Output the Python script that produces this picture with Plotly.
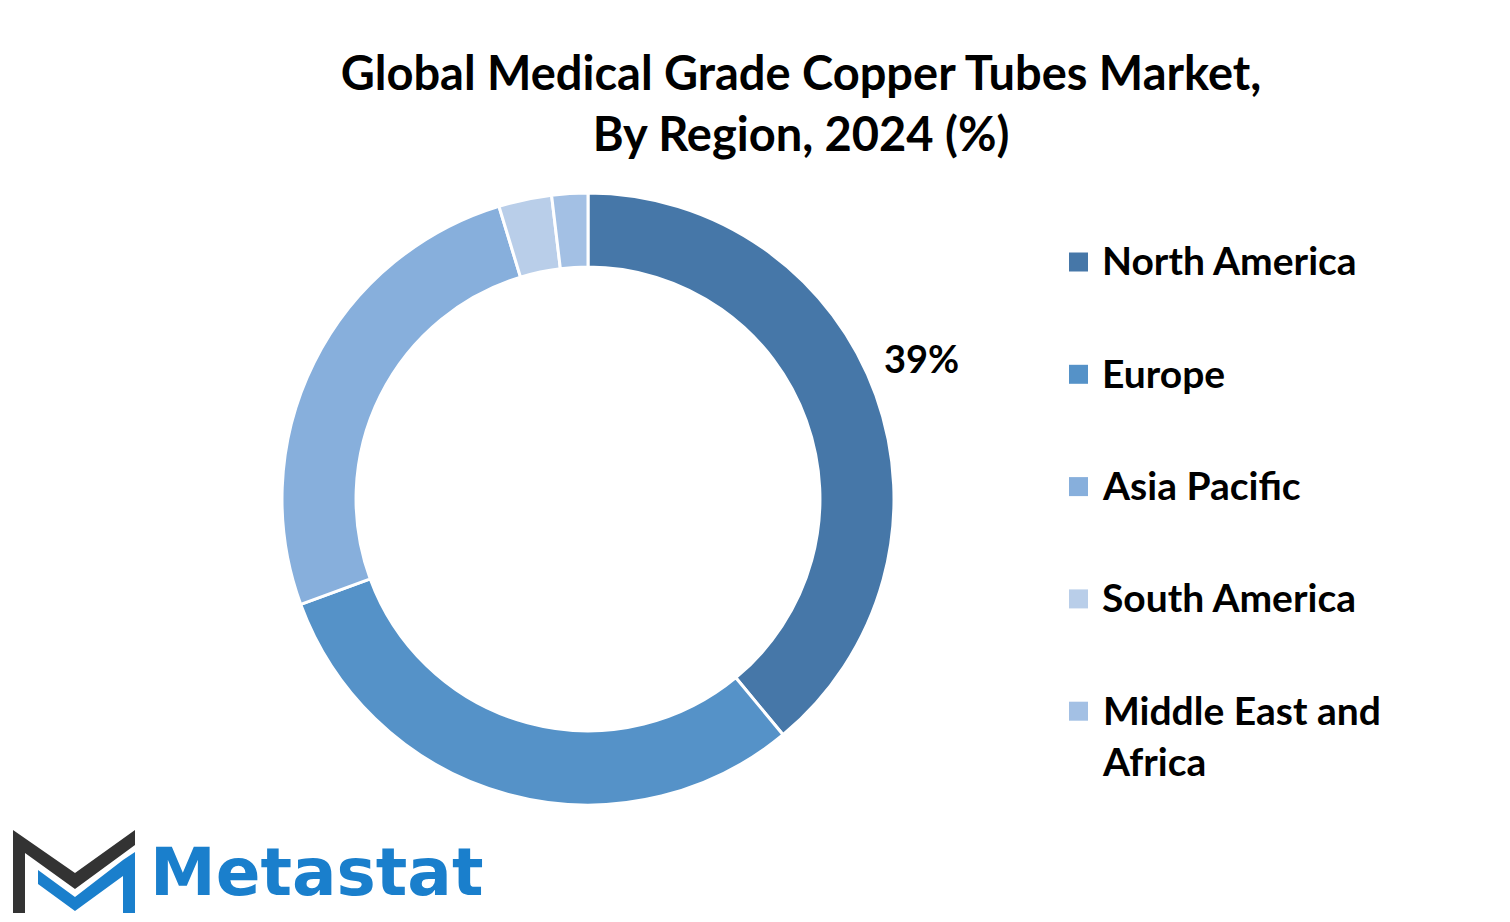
import plotly.graph_objects as go

# ---- data ----
regions = ["North America", "Europe", "Asia Pacific", "South America", "Middle East and Africa"]
legend_labels = ["North America", "Europe", "Asia Pacific", "South America", "Middle East and<br>Africa"]
shares = [39.0, 30.4, 25.9, 2.8, 1.9]
colors = ["#4677A8", "#5592C8", "#87AFDC", "#B9CEE9", "#A3C0E4"]
labelled = [True, False, False, False, False]

W, H = 1510, 922
OFF = 8  # page body margin
FONT = "Lato"


def px(x):
    return (x - OFF) / W


def py(y):
    return 1 - (y - OFF) / H


fig = go.Figure()
fig.add_trace(go.Pie(
    labels=regions,
    values=shares,
    sort=False,
    direction="clockwise",
    rotation=0,
    hole=0.758,
    marker=dict(colors=colors, line=dict(color="white", width=3)),
    textinfo="none",
    showlegend=False,
    hoverinfo="label+percent",
    domain=dict(x=[px(282), px(894)], y=[py(805), py(193)]),
))

shapes = []
annotations = []

# value label(s)
for i, s in enumerate(labelled):
    if s:
        annotations.append(dict(xref="paper", yref="paper", x=px(922), y=py(358),
                                xanchor="center", yanchor="middle", showarrow=False,
                                text=f"{shares[i]:.0f}%",
                                font=dict(family=FONT, size=38, color="black", weight="bold")))

# manual legend
row0, step, fs = 262, 112.3, 39
for i, (lab, col) in enumerate(zip(legend_labels, colors)):
    yc = row0 + i * step
    shapes.append(dict(type="rect", xref="paper", yref="paper",
                       x0=px(1069), x1=px(1088), y0=py(yc + 9.5), y1=py(yc - 9.5),
                       fillcolor=col, line=dict(width=0)))
    annotations.append(dict(xref="paper", yref="paper", x=px(1100), y=py(yc - fs * 0.68),
                            xanchor="left", yanchor="top", align="left", showarrow=False,
                            text=lab, font=dict(family=FONT, size=fs, color="black", weight="bold")))

# logo icon
dark = "M 13 830 L 75 873 L 135 830 L 135 845 L 75 889 L 25 853 L 25 913 L 13 913 Z"
blue = "M 38 870 L 75 897 L 123 860 L 135 852 L 135 913 L 123 913 L 123 876 L 75 911 L 38 884 Z"


def to_paper(path):
    out = []
    toks = path.split()
    i = 0
    while i < len(toks):
        t = toks[i]
        if t in ("M", "L"):
            out.append(f"{t} {px(float(toks[i+1])):.5f} {py(float(toks[i+2])):.5f}")
            i += 3
        else:
            out.append(t)
            i += 1
    return " ".join(out)


shapes.append(dict(type="path", xref="paper", yref="paper", path=to_paper(dark),
                   fillcolor="#333333", line=dict(width=0)))
shapes.append(dict(type="path", xref="paper", yref="paper", path=to_paper(blue),
                   fillcolor="#1A7FCC", line=dict(width=0)))
annotations.append(dict(xref="paper", yref="paper", x=px(148), y=py(872), xanchor="left",
                        yanchor="middle", showarrow=False, text="Metastat",
                        font=dict(family="DejaVu Sans", size=66, color="#1A7FCC", weight="bold")))

fig.update_layout(
    width=W, height=H,
    margin=dict(l=0, r=0, t=0, b=0),
    paper_bgcolor="white", plot_bgcolor="white",
    title=dict(text="Global Medical Grade Copper Tubes Market,<br>By Region, 2024 (%)",
               x=px(801), xanchor="center", y=1 - 82 / H, yanchor="top", yref="container",
               font=dict(family=FONT, size=47, color="black", weight="bold")),
    shapes=shapes,
    annotations=annotations,
)

fig.write_html("out.html")
